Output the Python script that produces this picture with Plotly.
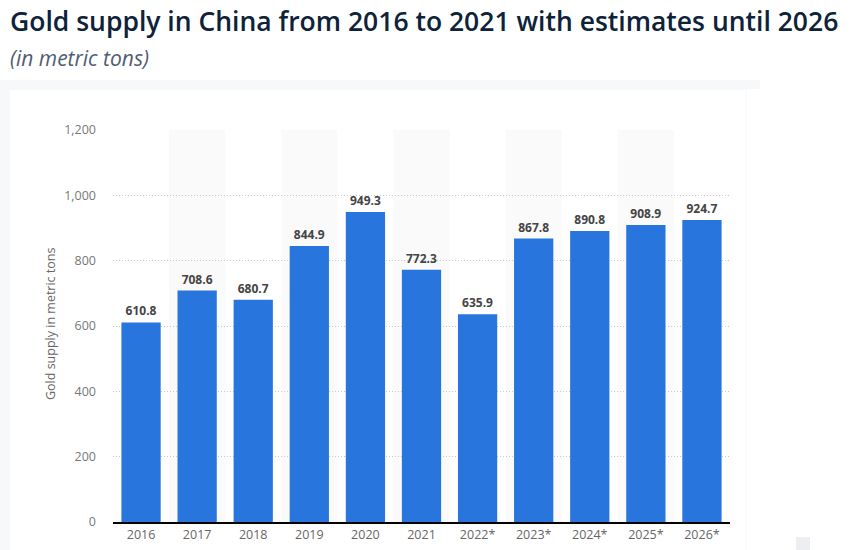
import plotly.graph_objects as go

years = ["2016", "2017", "2018", "2019", "2020", "2021", "2022*", "2023*", "2024*", "2025*", "2026*"]
supply = [610.8, 708.6, 680.7, 844.9, 949.3, 772.3, 635.9, 867.8, 890.8, 908.9, 924.7]
y_ticks = [0, 200, 400, 600, 800, 1000, 1200]
y_tick_labels = ["0", "200", "400", "600", "800", "1,000", "1,200"]

W, H = 863, 550
L, R, T, B = 113, 730, 130, 522

def px(x):
    return (x - L) / (R - L)

def py(y):
    return (B - y) / (B - T)

fig = go.Figure()
fig.add_trace(go.Bar(
    x=list(range(len(years))), y=supply,
    marker=dict(color="#2876dd", line=dict(width=0)),
    text=[f"{v:,.1f}" for v in supply],
    textposition="outside",
    textfont=dict(family="Open Sans, sans-serif", size=12, color="#444444", weight="bold"),
    cliponaxis=False,
    width=0.7,
    hoverinfo="skip",
))

shapes = []
# background shadow and card
shapes.append(dict(type="rect", xref="paper", yref="paper", x0=px(0), x1=px(760), y0=py(80), y1=py(560),
                   fillcolor="#f7f8fa", line=dict(width=0), layer="below"))
shapes.append(dict(type="rect", xref="paper", yref="paper", x0=px(10), x1=px(746), y0=py(90), y1=py(560),
                   fillcolor="#ffffff", line=dict(width=0), layer="below"))
shapes.append(dict(type="rect", xref="paper", yref="paper", x0=px(747), x1=px(870), y0=py(89), y1=py(560),
                   fillcolor="#ffffff", line=dict(width=0), layer="below"))
# alternating column bands
for i in range(len(years)):
    if i % 2 == 1:
        shapes.append(dict(type="rect", xref="x", yref="y", x0=i - 0.5, x1=i + 0.5, y0=0, y1=1200,
                           fillcolor="#fafafa", line=dict(width=0), layer="below"))
# footer artifacts
shapes.append(dict(type="rect", xref="paper", yref="paper", x0=px(796), x1=px(810), y0=py(537), y1=py(552),
                   fillcolor="#eceef2", line=dict(width=0)))

annotations = [
    dict(text="Gold supply in China from 2016 to 2021 with estimates until 2026",
         xref="paper", yref="paper", x=px(8), y=py(21), xanchor="left", yanchor="middle",
         showarrow=False, font=dict(family="Open Sans, sans-serif", size=26.5, color="#0e2239", weight=600)),
    dict(text="<i>(in metric tons)</i>",
         xref="paper", yref="paper", x=px(8), y=py(58), xanchor="left", yanchor="middle",
         showarrow=False, font=dict(family="Open Sans, sans-serif", size=21, color="#4f5d72")),
    dict(text="Gold supply in metric tons",
         xref="paper", yref="paper", x=px(50), y=py(324), xanchor="center", yanchor="middle",
         textangle=-90, showarrow=False,
         font=dict(family="Open Sans, sans-serif", size=12.5, color="#666666")),
]

fig.update_layout(
    width=W, height=H,
    margin=dict(l=L, r=W - R, t=T, b=H - B, pad=0),
    paper_bgcolor="#ffffff", plot_bgcolor="rgba(0,0,0,0)",
    showlegend=False,
    shapes=shapes, annotations=annotations,
    bargap=0.3,
    xaxis=dict(
        tickmode="array", tickvals=list(range(len(years))), ticktext=years,
        range=[-0.5, len(years) - 0.5], automargin=False,
        showgrid=False, showline=True, linecolor="#000000", linewidth=1.5,
        ticks="", tickfont=dict(family="Open Sans, sans-serif", size=12.5, color="#666666"),
        fixedrange=True,
    ),
    yaxis=dict(
        range=[0, 1200], tickmode="array", tickvals=y_ticks, ticktext=y_tick_labels,
        automargin=False,
        showgrid=True, gridcolor="#c8c8c8", griddash="1px,2px", gridwidth=1,
        zeroline=False, showline=False, ticks="", ticklabelstandoff=16,
        tickfont=dict(family="Open Sans, sans-serif", size=12.5, color="#777777"),
        fixedrange=True,
    ),
)

fig.write_html("out.html", config={"displayModeBar": False},
               post_script="document.body.style.margin='0';document.body.style.padding='0';")
